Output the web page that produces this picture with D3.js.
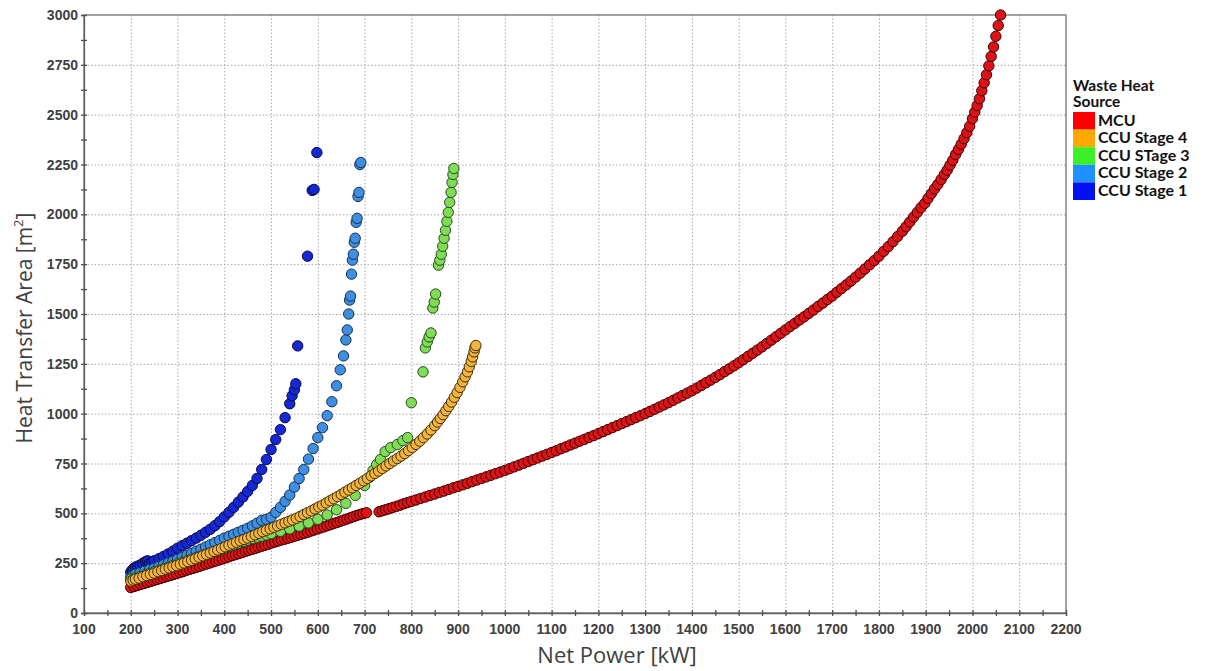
<!DOCTYPE html>
<html>
<head>
<meta charset="utf-8">
<script src="https://cdn.jsdelivr.net/npm/d3@7"></script>
<style>
  body { margin: 0; background: #fff; }
  svg  { display: block; }
</style>
</head>
<body>
<div id="chart"></div>
<script>
// ----- Data -----
const xTickValues = [100, 200, 300, 400, 500, 600, 700, 800, 900, 1000, 1100,
                     1200, 1300, 1400, 1500, 1600, 1700, 1800, 1900, 2000, 2100, 2200];
const yTickValues = [0, 250, 500, 750, 1000, 1250, 1500, 1750, 2000, 2250, 2500, 2750, 3000];

const seriesNames = ["MCU", "CCU Stage 4", "CCU STage 3", "CCU Stage 2", "CCU Stage 1"];

// MCU
const mcuPower = [200,207,214,221,228,235,242,249,256,263,270,277,284,291,298,305,312,319,326,333,
  340,347,354,361,368,375,382,389,396,403,410,417,424,431,438,445,452,459,466,473,480,487,494,501,
  508,515,522,529,536,543,550,557,564,571,578,585,592,599,606,613,620,627,634,641,648,655,662,669,
  676,683,690,697,704,
  731,738,745,752,760,768,776,784,792,800,810,820,830,840,850,860,870,880,890,900,910,920,930,940,
  950,960,970,980,990,1000,1010,1020,1030,1040,1050,1060,1070,1080,1090,1100,1110,1120,1130,1140,
  1150,1160,1170,1180,1190,1200,1210,1220,1230,1240,1250,1260,1270,1280,1290,1300,1310,1320,1330,
  1340,1350,1360,1370,1380,1390,1400,1410,1420,1430,1440,1450,1460,1470,1480,1490,1500,1510,1520,
  1530,1540,1550,1560,1570,1580,1590,1600,1610,1620,1630,1640,1650,1660,1670,1680,1690,1700,1710,
  1720,1730,1740,1750,1760,1770,1780,1790,1800,1810,1820,1830,1840,1850,1858,1866,1874,1882,1890,
  1898,1905,1912,1919,1926,1933,1940,1946,1952,1958,1964,1970,1976,1982,1988,1994,2000,2005,2010,
  2015,2020,2025,2030,2035,2040,2045,2050,2055,2060];
const mcuArea = [128,133,138,143,148,153,158,163,168,173,178,183,188,193,198,203,208,214,219,224,
  229,234,240,245,250,256,261,266,271,277,282,288,293,298,303,309,314,319,324,330,335,340,345,351,
  356,361,366,370,375,380,385,390,395,400,405,411,416,421,427,432,438,443,449,454,460,466,471,477,
  483,489,494,499,503,
  508,513,518,523,529,535,541,548,554,560,567,575,582,590,597,605,612,620,628,635,643,651,659,667,
  675,683,691,699,707,715,724,733,742,751,760,769,778,787,796,805,814,824,833,843,
  852,862,871,881,890,900,910,920,930,940,950,960,970,980,990,1000,1011,1022,1033,
  1044,1055,1067,1079,1091,1103,1115,1128,1141,1155,1168,1182,1196,1211,1225,1240,1255,1271,1287,
  1303,1319,1335,1352,1369,1386,1403,1420,1437,1453,1470,1486,1503,1520,1538,1555,1573,1590,1609,
  1628,1646,1665,1685,1705,1726,1747,1768,1790,1814,1838,1863,1889,1915,1938,1962,1986,2010,2034,
  2055,2080,2104,2128,2150,2175,2200,2222,2247,2272,2300,2326,2352,2380,2410,2442,2480,2513,2546,
  2580,2620,2660,2700,2745,2792,2840,2893,2947,3000];

// CCU Stage 4
const ccu4Power = [200,205,210,218,226,234,242,250,258,266,274,282,290,298,306,314,322,330,338,346,
  354,362,370,378,386,394,402,410,418,426,434,442,450,458,466,474,482,490,498,506,514,522,530,538,
  546,554,562,570,578,586,594,602,610,618,626,634,642,650,658,666,674,682,690,698,706,714,722,730,
  738,746,754,762,770,778,786,794,802,810,818,826,834,842,850,856,862,868,874,880,886,892,898,904,
  910,915,920,924,928,931,934,936,938];
const ccu4Area = [160,165,170,175,182,188,194,200,207,213,220,226,232,238,245,251,258,265,272,280,
  287,294,301,309,316,324,332,340,347,355,362,369,376,384,392,400,408,415,422,430,437,445,452,460,
  467,475,484,494,503,512,522,532,541,552,563,573,584,595,606,617,628,640,651,663,675,688,700,712,
  725,738,750,763,775,787,800,815,830,846,862,880,898,918,940,958,976,995,1015,1036,1058,1082,1106,
  1132,1160,1185,1210,1235,1262,1285,1310,1330,1342];

// CCU STage 3
const ccu3Power = [200,210,220,230,240,250,260,270,280,290,300,310,320,330,340,350,360,370,380,390,
  400,410,420,430,440,450,460,470,480,490,500,520,540,560,580,600,620,640,660,680,700,710,718,726,
  734,744,756,770,782,792,800,825,830,834,838,842,846,849,852,858,861,864,867,870,873,876,879,882,
  885,887,889,891];
const ccu3Area = [170,175,183,190,198,206,214,222,230,238,246,254,262,270,278,286,294,302,310,318,
  326,334,342,350,358,366,374,380,386,392,398,410,422,436,452,470,492,518,550,590,640,680,715,745,
  770,810,830,845,865,880,1055,1210,1330,1360,1385,1405,1530,1560,1600,1745,1770,1800,1840,1880,
  1920,1965,2010,2060,2110,2160,2200,2230];

// CCU Stage 2
const ccu2Power = [200,205,210,220,230,240,250,260,270,280,290,300,310,320,330,340,350,360,370,380,
  390,400,410,420,430,440,450,460,470,480,490,500,510,520,530,540,550,560,570,580,590,600,610,620,
  630,640,648,655,660,663,666,668,670,672,674,676,678,680,682,684,686,688,690,692];
const ccu2Area = [180,190,195,202,210,218,225,233,242,251,260,270,280,290,300,310,320,331,342,353,
  364,376,385,395,405,415,425,437,450,465,470,480,505,530,560,592,632,675,720,772,825,880,930,990,
  1060,1140,1220,1290,1370,1420,1500,1570,1590,1700,1770,1800,1860,1880,1960,1980,2090,2110,2250,2260];

// CCU Stage 1
const ccu1Power = [200,203,206,210,215,220,226,232,236,240,245,250,260,270,280,290,300,310,320,330,
  340,350,360,370,380,390,400,410,420,430,440,450,460,470,480,490,500,510,520,530,540,545,550,553,
  557,578,588,592,598];
const ccu1Area = [205,215,222,230,235,240,250,258,262,250,255,262,272,284,296,310,325,338,350,363,
  376,390,405,420,438,458,482,505,530,556,582,610,640,675,720,770,820,870,920,980,1050,1090,1120,
  1150,1340,1790,2120,2125,2310];

// ----- Styling -----
const pointFill   = ["#dc1418", "#f2b43a", "#7fdc55", "#3e8fe2", "#1428d6"];
const pointStroke = ["#3a0000", "#3a2a10", "#2a4a20", "#13304f", "#0a0a40"];
const swatchFill  = ["#ff0000", "#ffa800", "#3cf028", "#1e90ff", "#0010f0"];

// ---------- Main render ----------
function renderChart() {
  const width  = 1211;
  const height = 671;
  const plot   = { left: 84, right: 1066, top: 15, bottom: 613 };

  const svg = d3.select("#chart")
    .append("svg")
    .attr("width", width)
    .attr("height", height);

  const x = d3.scaleLinear().domain([100, 2200]).range([plot.left, plot.right]);
  const y = d3.scaleLinear().domain([0, 3000]).range([plot.bottom, plot.top]);

  // gridlines
  const grid = svg.append("g")
    .attr("stroke", "#a8a8a8")
    .attr("stroke-width", 1)
    .attr("stroke-dasharray", "1.5,2");

  grid.selectAll(".vgrid")
    .data(xTickValues.slice(1, -1))
    .enter()
    .append("line")
    .attr("x1", d => x(d) + 0.5)
    .attr("x2", d => x(d) + 0.5)
    .attr("y1", plot.top)
    .attr("y2", plot.bottom);

  grid.selectAll(".hgrid")
    .data(yTickValues.slice(1, -1))
    .enter()
    .append("line")
    .attr("x1", plot.left)
    .attr("x2", plot.right)
    .attr("y1", d => y(d) + 0.5)
    .attr("y2", d => y(d) + 0.5);

  // frame
  svg.append("rect")
    .attr("x", plot.left)
    .attr("y", plot.top)
    .attr("width", plot.right - plot.left)
    .attr("height", plot.bottom - plot.top)
    .attr("fill", "none")
    .attr("stroke", "#707070")
    .attr("stroke-width", 1.3);

  // x axis (labels + crossing minor ticks every 50)
  const xMinor = d3.range(0, xTickValues.length * 2 - 1).map(i => 100 + i * 50);
  const xAxis = svg.append("g")
    .attr("transform", `translate(0,${plot.bottom})`)
    .call(d3.axisBottom(x).tickValues(xMinor).tickSize(3).tickFormat(""));
  xAxis.select(".domain").attr("stroke", "#606060").attr("stroke-width", 1.3);
  xAxis.selectAll(".tick line").attr("y1", -3).attr("stroke", "#505050").attr("stroke-width", 1.3);

  svg.append("g")
    .selectAll(".xlab")
    .data(xTickValues)
    .enter()
    .append("text")
    .attr("x", d => x(d))
    .attr("y", plot.bottom + 21)
    .attr("text-anchor", "middle")
    .attr("font-family", "Liberation Sans, Arial, sans-serif")
    .attr("font-weight", 700)
    .attr("font-size", 14)
    .attr("fill", "#404040")
    .text(d => d);

  // y axis
  const yMinor = d3.range(0, yTickValues.length * 2 - 1).map(i => i * 125);
  const yAxis = svg.append("g")
    .attr("transform", `translate(${plot.left},0)`)
    .call(d3.axisLeft(y).tickValues(yMinor).tickSize(3).tickFormat(""));
  yAxis.select(".domain").attr("stroke", "#606060").attr("stroke-width", 1.3);
  yAxis.selectAll(".tick line").attr("x1", 3).attr("stroke", "#505050").attr("stroke-width", 1.3);

  svg.append("g")
    .selectAll(".ylab")
    .data(yTickValues)
    .enter()
    .append("text")
    .attr("x", plot.left - 6)
    .attr("y", d => y(d) + 5)
    .attr("text-anchor", "end")
    .attr("font-family", "Liberation Sans, Arial, sans-serif")
    .attr("font-weight", 700)
    .attr("font-size", 14)
    .attr("fill", "#404040")
    .text(d => d);

  // points
  const series = [
    { power: mcuPower,  area: mcuArea,  idx: 0 },
    { power: ccu1Power, area: ccu1Area, idx: 4 },
    { power: ccu2Power, area: ccu2Area, idx: 3 },
    { power: ccu3Power, area: ccu3Area, idx: 2 },
    { power: ccu4Power, area: ccu4Area, idx: 1 }
  ];

  series.forEach(s => {
    const pts = s.power.map((p, i) => ({ p: p, a: s.area[i] }));
    svg.append("g")
      .selectAll("circle")
      .data(pts)
      .enter()
      .append("circle")
      .attr("cx", d => x(d.p))
      .attr("cy", d => y(d.a))
      .attr("r", 5.2)
      .attr("fill", pointFill[s.idx])
      .attr("stroke", pointStroke[s.idx])
      .attr("stroke-width", 1);
  });

  // axis titles
  svg.append("text")
    .attr("x", 617)
    .attr("y", 663)
    .attr("text-anchor", "middle")
    .attr("font-family", "Open Sans, sans-serif")
    .attr("font-size", 22)
    .attr("fill", "#404040")
    .text("Net Power [kW]");

  const yTitle = svg.append("text")
    .attr("transform", "translate(32,328) rotate(-90)")
    .attr("text-anchor", "middle")
    .attr("font-family", "Open Sans, sans-serif")
    .attr("font-size", 21)
    .attr("fill", "#404040");
  yTitle.append("tspan").text("Heat Transfer Area [m");
  yTitle.append("tspan").attr("baseline-shift", "super").attr("font-size", 13).text("2");
  yTitle.append("tspan").text("]");

  // legend
  const legend = svg.append("g")
    .attr("font-family", "Lato, Calibri, sans-serif")
    .attr("font-weight", 700)
    .attr("fill", "#111");

  legend.append("text").attr("x", 1073).attr("y", 91).attr("font-size", 15.5).text("Waste Heat");
  legend.append("text").attr("x", 1073).attr("y", 107).attr("font-size", 15.5).text("Source");

  const rowH = 17.6;
  seriesNames.forEach((name, i) => {
    legend.append("rect")
      .attr("x", 1073)
      .attr("y", 112 + i * rowH)
      .attr("width", 22)
      .attr("height", rowH)
      .attr("fill", swatchFill[i]);
    legend.append("text")
      .attr("x", 1098)
      .attr("y", 112 + i * rowH + 13.5)
      .attr("font-size", 16)
      .text(name);
  });
}

renderChart();
</script>
</body>
</html>
